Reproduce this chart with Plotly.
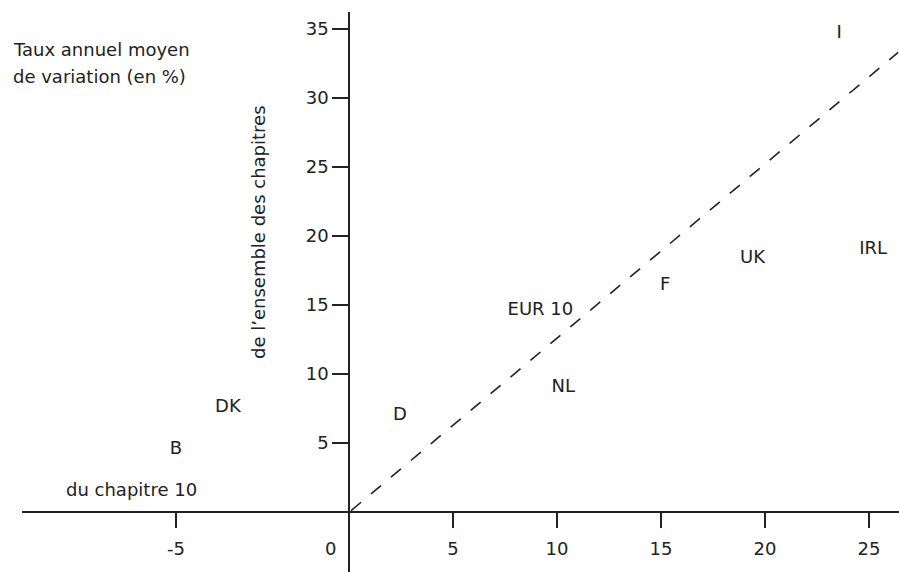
import plotly.graph_objects as go

# Data
neg_labels = ["DK", "B"]
neg_x = [-3.5, -5.0]
neg_y = [7.6, 4.5]

pos_labels = ["I", "IRL", "UK", "F", "EUR 10", "NL", "D"]
pos_x = [23.56, 25.2, 19.4, 15.2, 9.2, 10.3, 2.45]
pos_y = [34.7, 19.0, 18.4, 16.4, 14.6, 9.0, 7.0]

diag_x = [0.1, 26.4]
diag_y = [0.1, 33.3]

x_neg_ticks = [-5]
x_pos_ticks = [5, 10, 15, 20, 25]
y_ticks = [5, 10, 15, 20, 25, 30, 35]

W, H = 899, 572
FONT = dict(family="DejaVu Sans, Liberation Sans, Arial, sans-serif", size=18, color="#222")
AX = "#222"

fig = go.Figure()
fig.add_trace(go.Scatter(x=neg_x, y=neg_y, text=neg_labels, mode="text",
                         textfont=FONT, xaxis="x", yaxis="y", showlegend=False,
                         hoverinfo="skip"))
fig.add_trace(go.Scatter(x=pos_x, y=pos_y, text=pos_labels, mode="text",
                         textfont=FONT, xaxis="x2", yaxis="y", showlegend=False,
                         hoverinfo="skip"))
fig.add_trace(go.Scatter(x=diag_x, y=diag_y, mode="lines",
                         line=dict(color=AX, width=1.6, dash="13px,13px"),
                         xaxis="x2", yaxis="y", showlegend=False, hoverinfo="skip"))

x0 = 349 / W
xpos = (H - 512) / H
fig.update_layout(
    width=W, height=H,
    margin=dict(l=0, r=0, t=0, b=0),
    paper_bgcolor="white", plot_bgcolor="white",
    font=FONT,
    xaxis=dict(domain=[22 / W, x0], range=[-9.45, 0], anchor="free", position=xpos,
               showgrid=False, zeroline=False, showline=True, linecolor=AX, linewidth=1.5,
               ticks="outside", ticklen=15, tickwidth=1.5, tickcolor=AX,
               tickvals=x_neg_ticks, ticktext=[str(v) for v in x_neg_ticks],
               tickfont=FONT, ticklabelstandoff=6),
    xaxis2=dict(domain=[x0, 1], range=[0, 26.44], anchor="free", position=xpos,
                showgrid=False, zeroline=False, showline=True, linecolor=AX, linewidth=1.5,
                ticks="outside", ticklen=15, tickwidth=1.5, tickcolor=AX,
                tickvals=x_pos_ticks, ticktext=[str(v) for v in x_pos_ticks],
                tickfont=FONT, ticklabelstandoff=6),
    yaxis=dict(domain=[0, (H - 12) / H], range=[-4.35, 36.23], anchor="free", position=x0,
               showgrid=False, zeroline=False, showline=True, linecolor=AX, linewidth=1.5,
               ticks="outside", ticklen=16, tickwidth=1.5, tickcolor=AX,
               tickvals=y_ticks, ticktext=[str(v) for v in y_ticks],
               tickfont=FONT),
)

def ann(text, x, y, **kw):
    fig.add_annotation(text=text, x=x / W, y=1 - y / H, xref="paper", yref="paper",
                       showarrow=False, font=FONT, **kw)

ann("Taux annuel moyen", 11, 50, xanchor="left", yanchor="middle")
ann("de variation (en %)", 11, 76, xanchor="left", yanchor="middle")
ann("de l’ensemble des chapitres", 258, 232, textangle=-90, xanchor="center", yanchor="middle")
ann("du chapitre 10", 64, 489, xanchor="left", yanchor="middle")
ann("0", 330, 548, xanchor="center", yanchor="middle")

fig.write_html("out.html", config={"displayModeBar": False},
               post_script="document.body.style.margin='0';document.body.style.overflow='hidden';")
